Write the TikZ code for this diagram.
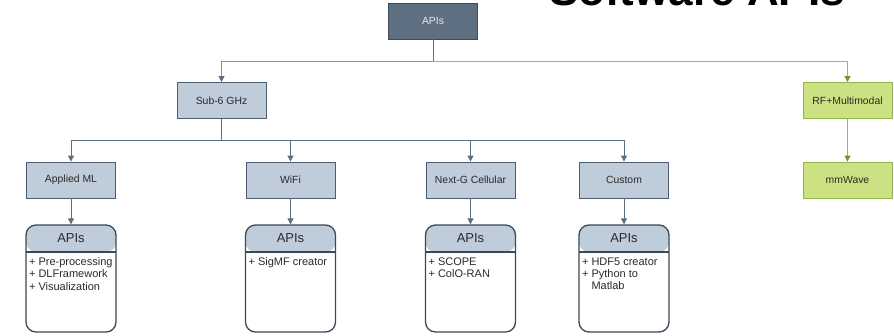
\documentclass[tikz,border=0pt]{standalone}
\usepackage{fontspec}
\setmainfont{Liberation Sans}
\usetikzlibrary{arrows.meta}

\definecolor{boxfill}{HTML}{BFCCD9}
\definecolor{boxedge}{HTML}{4E5E70}
\definecolor{topfill}{HTML}{5F6F82}
\definecolor{toptext}{HTML}{E6EAEE}
\definecolor{linkcol}{HTML}{5E6E80}
\definecolor{linkmauve}{HTML}{8A8AA6}
\definecolor{grfill}{HTML}{CCE282}
\definecolor{gredge}{HTML}{8DB84A}
\definecolor{grline}{HTML}{8DC63F}
\definecolor{panedge}{HTML}{3A4858}
\definecolor{txtcol}{HTML}{2A2A2A}

\tikzset{
  catbox/.style={draw=boxedge, fill=boxfill, line width=0.8pt,
    minimum width=89pt, minimum height=36pt, inner sep=0pt,
    text=txtcol, font=\fontsize{10.4}{12}\selectfont},
  topbox/.style={catbox, draw=boxedge!80!black, fill=topfill, text=toptext},
  greenbox/.style={catbox, draw=gredge, fill=grfill},
  apipanel/.style={draw=panedge, fill=white, line width=1.3pt,
    rounded corners=10pt, minimum width=90pt, minimum height=107pt,
    inner sep=0pt,
    path picture={
      \fill[boxfill] (path picture bounding box.north west)
        rectangle ([yshift=-27pt]path picture bounding box.north east);
      \draw[panedge, line width=1.1pt]
        ([yshift=-27pt]path picture bounding box.north west)
        -- ([yshift=-27pt]path picture bounding box.north east);
    }},
  panhead/.style={font=\fontsize{13}{15}\selectfont, text=txtcol, inner sep=0pt},
  panitems/.style={font=\fontsize{11}{12.4}\selectfont, text=txtcol,
    align=left, inner sep=0pt, anchor=north west},
  link/.style={draw=linkcol, line width=0.8pt},
  arrowlink/.style={link, -{Triangle[length=6pt,width=6pt]}},
  greenlink/.style={draw=grline, line width=0.9pt,
    -{Triangle[length=6pt,width=6pt,color=gredge!80!black]}},
  mauvelink/.style={draw=linkmauve, line width=0.8pt,
    -{Triangle[length=6pt,width=6pt,color=linkcol]}},
}

\begin{document}
\begin{tikzpicture}[x=1pt,y=-1pt]
\useasboundingbox (0,0) rectangle (894,335);
\clip (0,0) rectangle (894,335);

% heading, running off the top edge
\node[font=\bfseries\fontsize{44}{44}\selectfont, anchor=base, inner sep=0pt]
  (title) at (697,5) {Software APIs};

% root
\node[topbox] (root) at (433,21) {APIs};

% first level
\node[catbox]   (sub6) at (221.5,100.5) {Sub-6 GHz};
\node[greenbox] (rf)   at (847.5,100.5) {RF+Multimodal};

% second level
\node[catbox]   (aml)  at (71,180)    {Applied ML};
\node[catbox]   (wifi) at (290.5,180) {WiFi};
\node[catbox]   (nxg)  at (470.5,180) {Next-G Cellular};
\node[catbox]   (cust) at (624,180)   {Custom};
\node[greenbox] (mmw)  at (847.5,180) {mmWave};

% API panels
\node[apipanel] (p1) at (71,278.5)    {};
\node[apipanel] (p2) at (290.5,278.5) {};
\node[apipanel] (p3) at (470.5,278.5) {};
\node[apipanel] (p4) at (624,278.5)   {};

\foreach \p in {p1,p2,p3,p4}{
  \node[panhead] (\p h) at ([yshift=-13.5pt]\p.north) {APIs};
}
\node[panitems] (p1i) at ([xshift=3.5pt,yshift=-33pt]p1.north west)
  {+ Pre-processing\\+ DLFramework\\+ Visualization};
\node[panitems] (p2i) at ([xshift=3.5pt,yshift=-33pt]p2.north west)
  {+ SigMF creator};
\node[panitems] (p3i) at ([xshift=3.5pt,yshift=-33pt]p3.north west)
  {+ SCOPE\\+ ColO-RAN};
\node[panitems] (p4i) at ([xshift=3.5pt,yshift=-33pt]p4.north west)
  {+ HDF5 creator\\+ Python to\\\hphantom{+ }Matlab};

% junctions
\coordinate (j0) at (433,61);
\coordinate (j1) at (221.5,140);

% connectors
\draw[link] (root.south) -- (j0);
\draw[mauvelink] (j0) -| (sub6.north);
\draw[greenlink] (j0) -| (rf.north);
\draw[greenlink] (rf.south) -- (mmw.north);

\draw[link] (sub6.south) -- (j1);
\foreach \c in {aml,wifi,nxg,cust}{
  \draw[arrowlink] (j1) -| (\c.north);
}
\draw[arrowlink] (aml.south)  -- (p1.north);
\draw[arrowlink] (wifi.south) -- (p2.north);
\draw[arrowlink] (nxg.south)  -- (p3.north);
\draw[arrowlink] (cust.south) -- (p4.north);
\end{tikzpicture}
\end{document}
